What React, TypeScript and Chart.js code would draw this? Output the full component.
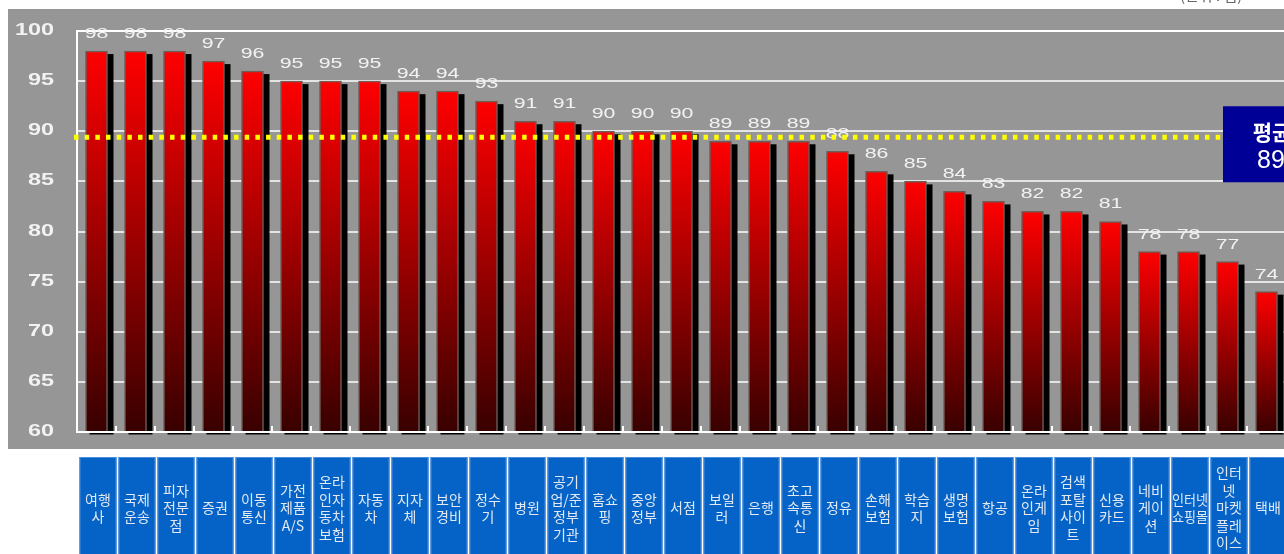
import { useEffect, useRef } from "react";
import { Chart, registerables } from "chart.js";

Chart.register(...registerables);

// Industry names (line-broken as they appear in the label cells) and their scores
const categories: string[][] = [
  ["여행", "사"],
  ["국제", "운송"],
  ["피자", "전문", "점"],
  ["증권"],
  ["이동", "통신"],
  ["가전", "제품", "A/S"],
  ["온라", "인자", "동차", "보험"],
  ["자동", "차"],
  ["지자", "체"],
  ["보안", "경비"],
  ["정수", "기"],
  ["병원"],
  ["공기", "업/준", "정부", "기관"],
  ["홈쇼", "핑"],
  ["중앙", "정부"],
  ["서점"],
  ["보일", "러"],
  ["은행"],
  ["초고", "속통", "신"],
  ["정유"],
  ["손해", "보험"],
  ["학습", "지"],
  ["생명", "보험"],
  ["항공"],
  ["온라", "인게", "임"],
  ["검색", "포탈", "사이", "트"],
  ["신용", "카드"],
  ["네비", "게이", "션"],
  ["인터넷", "쇼핑몰"],
  ["인터", "넷", "마켓", "플레", "이스"],
  ["택배"],
];

const scores: number[] = [
  98, 98, 98, 97, 96, 95, 95, 95, 94, 94, 93, 91, 91, 90, 90, 90, 89, 89, 89, 88,
  86, 85, 84, 83, 82, 82, 81, 78, 78, 77, 74,
];

const yTickValues: number[] = [60, 65, 70, 75, 80, 85, 90, 95, 100];

const averageScore = 89.4;
const averageTitle = "평균";
const unitNote = "(단위 : 점)";

const CANVAS_W = 1330;
const CANVAS_H = 554;

function drawWideText(
  ctx: CanvasRenderingContext2D,
  text: string,
  x: number,
  y: number,
  scaleX: number,
  align: CanvasTextAlign
) {
  ctx.save();
  ctx.translate(x, y);
  ctx.scale(scaleX, 1);
  ctx.textAlign = align;
  ctx.fillText(text, 0, 0);
  ctx.restore();
}

const decorPlugin = {
  id: "decor",
  beforeDraw(chart: any) {
    const ctx: CanvasRenderingContext2D = chart.ctx;
    const xs = chart.scales.x;
    ctx.save();
    // grey panel behind the plot
    ctx.fillStyle = "#969696";
    ctx.fillRect(8, 9, chart.width - 8, 440);

    // unit note above the panel
    ctx.fillStyle = "#666666";
    ctx.font = '15px "Noto Sans CJK KR"';
    ctx.textAlign = "left";
    ctx.textBaseline = "alphabetic";
    ctx.fillText(unitNote, 1180, 1);

    // blue category label cells
    categories.forEach((lines, i) => {
      const cx = xs.getPixelForValue(i) + 1.5;
      const left = cx - 18.5;
      ctx.fillStyle = "#0563c7";
      ctx.fillRect(left, 457, 37, 110);
      ctx.strokeStyle = "#4a8edb";
      ctx.lineWidth = 1;
      ctx.strokeRect(left + 0.5, 457.5, 36, 110);
      ctx.fillStyle = "#e2e9f2";
      ctx.font = '14px "Noto Sans CJK KR"';
      ctx.textAlign = "center";
      ctx.textBaseline = "middle";
      const lh = 17.5;
      const top = 508 - ((lines.length - 1) * lh) / 2;
      lines.forEach((t, j) => ctx.fillText(t, cx, top + j * lh, 36));
    });
    ctx.restore();
  },
  beforeDatasetsDraw(chart: any) {
    const ctx: CanvasRenderingContext2D = chart.ctx;
    const area = chart.chartArea;
    const meta = chart.getDatasetMeta(0);
    ctx.save();
    ctx.fillStyle = "#000000";
    meta.data.forEach((bar: any) => {
      const { x, y, base, width } = bar.getProps(["x", "y", "base", "width"], true);
      const bottom = Math.min(base, area.bottom) + 2.5;
      ctx.fillRect(x - width / 2 + 4, y + 3, width + 2, bottom - (y + 3));
    });
    ctx.restore();
  },
  afterDatasetsDraw(chart: any) {
    const ctx: CanvasRenderingContext2D = chart.ctx;
    const area = chart.chartArea;
    const ys = chart.scales.y;
    const meta = chart.getDatasetMeta(0);
    ctx.save();

    // category axis line with short inward ticks
    ctx.strokeStyle = "#ffffff";
    ctx.lineWidth = 2;
    ctx.beginPath();
    ctx.moveTo(area.left - 1, area.bottom);
    ctx.lineTo(area.right, area.bottom);
    const step = (area.right - area.left) / categories.length;
    for (let k = 1; k < categories.length; k++) {
      const tx = area.left + k * step;
      ctx.moveTo(tx, area.bottom);
      ctx.lineTo(tx, area.bottom - 6);
    }
    ctx.stroke();

    // value labels above bars
    ctx.fillStyle = "#f2f2f2";
    ctx.font = '15px "Liberation Sans", Arial';
    ctx.textBaseline = "alphabetic";
    meta.data.forEach((bar: any, i: number) => {
      const { x, y } = bar.getProps(["x", "y"], true);
      drawWideText(ctx, String(scores[i]), x, y - 13, 1.42, "center");
    });

    // value axis labels
    ctx.fillStyle = "#f2f2f2";
    ctx.font = 'bold 16.5px "Liberation Sans", Arial';
    ctx.textBaseline = "middle";
    ys.ticks.forEach((t: any) => {
      drawWideText(ctx, String(t.value), 54, ys.getPixelForValue(t.value) - 0.5, 1.42, "right");
    });

    // average line and its tag
    const ay = ys.getPixelForValue(averageScore);
    ctx.strokeStyle = "#ffff00";
    ctx.lineWidth = 5;
    ctx.setLineDash([4.5, 6.17]);
    ctx.beginPath();
    ctx.moveTo(74, ay);
    ctx.lineTo(1223, ay);
    ctx.stroke();
    ctx.setLineDash([]);

    ctx.fillStyle = "#000096";
    ctx.fillRect(1223, ay - 31, 110, 76);
    ctx.fillStyle = "#ffffff";
    ctx.textAlign = "center";
    ctx.textBaseline = "middle";
    ctx.font = 'bold 21px "Noto Sans CJK KR"';
    ctx.fillText(averageTitle, 1272, ay - 5.5);
    ctx.font = '25px "Liberation Sans", Arial';
    ctx.fillText(String(Math.round(averageScore)), 1271, ay + 23.5);

    ctx.restore();
  },
};

export default function App() {
  const canvasRef = useRef<HTMLCanvasElement | null>(null);

  useEffect(() => {
    const canvas = canvasRef.current;
    if (!canvas) return;
    const chart = new Chart(canvas, {
      type: "bar",
      data: {
        labels: categories,
        datasets: [
          {
            data: scores,
            barThickness: 22,
            borderColor: "#6e5e58",
            borderWidth: 1.5,
            borderSkipped: false,
            backgroundColor: (c: any) => {
              const ch = c.chart;
              const area = ch.chartArea;
              if (!area || c.dataIndex == null) return "#cc0000";
              const top = ch.scales.y.getPixelForValue(scores[c.dataIndex]);
              const g = ch.ctx.createLinearGradient(0, top, 0, area.bottom);
              g.addColorStop(0, "#ff0000");
              g.addColorStop(1, "#380000");
              return g;
            },
          },
        ],
      },
      options: {
        responsive: false,
        maintainAspectRatio: false,
        animation: false,
        layout: { padding: { top: 31, right: 44, left: 0, bottom: 0 } },
        plugins: {
          legend: { display: false },
          tooltip: { enabled: false },
        },
        scales: {
          x: {
            type: "category",
            offset: true,
            grid: { display: false },
            border: { display: false },
            ticks: { display: false },
            afterFit: (s: any) => {
              s.height = 122;
            },
          },
          y: {
            min: 60,
            max: 100,
            afterBuildTicks: (s: any) => {
              s.ticks = yTickValues.map((v) => ({ value: v }));
            },
            afterFit: (s: any) => {
              s.width = 77;
            },
            grid: {
              drawTicks: false,
              lineWidth: 2,
              color: (c: any) => (c.tick && c.tick.value === 100 ? "#ffffff" : "#e4e4e4"),
            },
            border: { display: true, color: "#ffffff", width: 2 },
            ticks: { display: false },
          },
        },
      },
      plugins: [decorPlugin],
    } as any);
    return () => chart.destroy();
  }, []);

  return (
    <div
      style={{
        position: "fixed",
        left: 0,
        top: 0,
        width: 1284,
        height: 554,
        overflow: "hidden",
        background: "#ffffff",
      }}
    >
      <canvas
        ref={canvasRef}
        width={CANVAS_W}
        height={CANVAS_H}
        style={{ display: "block", width: CANVAS_W, height: CANVAS_H }}
      />
    </div>
  );
}
